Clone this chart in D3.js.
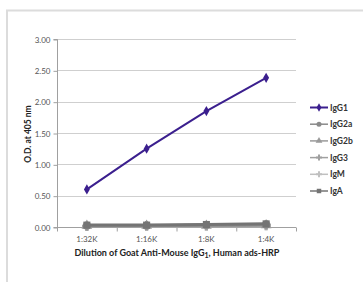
<!DOCTYPE html>
<html>
<head>
<meta charset="utf-8">
<script src="https://cdn.jsdelivr.net/npm/d3@7"></script>
<style>
  html, body { margin: 0; padding: 0; background: #fff; }
  svg { display: block; font-family: Lato, "Open Sans", sans-serif; }
</style>
</head>
<body>
<svg id="chart" width="363" height="282"></svg>
<script>
const dilutions = ["1:32K", "1:16K", "1:8K", "1:4K"];
const yTicks = [0, 0.5, 1, 1.5, 2, 2.5, 3];
const seriesNames = ["IgG1", "IgG2a", "IgG2b", "IgG3", "IgM", "IgA"];
const igG1 = [0.6, 1.25, 1.85, 2.38];
const igG2a = [0.02, 0.02, 0.03, 0.04];
const igG2b = [0.02, 0.02, 0.02, 0.03];
const igG3 = [0.01, 0.02, 0.02, 0.03];
const igM = [0.01, 0.01, 0.02, 0.02];
const igA = [0.03, 0.03, 0.04, 0.05];
const seriesValues = [igG1, igG2a, igG2b, igG3, igM, igA];

const colors = ["#3b1f8e", "#8a8a8a", "#9a9a9a", "#a0a0a0", "#c0c0c0", "#747474"];
const shapes = [d3.symbolDiamond, d3.symbolCircle, d3.symbolTriangle, d3.symbolCross, d3.symbolCross, d3.symbolSquare];

const svg = d3.select("#chart");
const plot = { left: 57, right: 296, top: 39, bottom: 227 };

// outer frame (light grey, left + top only)
svg.append("path")
  .attr("d", "M7,282V10.5H363")
  .attr("fill", "none")
  .attr("stroke", "#dcdcdc")
  .attr("stroke-width", 2);

const x = d3.scaleBand().domain(dilutions).range([plot.left, plot.right]).padding(0);
const y = d3.scaleLinear().domain([0, 3]).range([plot.bottom, plot.top]);
const cx = (d) => x(d) + x.bandwidth() / 2;

// grid
svg.append("g")
  .selectAll("line")
  .data(yTicks.filter((d) => d > 0))
  .join("line")
  .attr("x1", plot.left)
  .attr("x2", plot.right)
  .attr("y1", (d) => Math.round(y(d)) + 0.5)
  .attr("y2", (d) => Math.round(y(d)) + 0.5)
  .attr("stroke", "#cfcfcf");

// y axis
const yAxis = svg.append("g")
  .attr("transform", `translate(${plot.left + 0.5},0.5)`)
  .call(d3.axisLeft(y).tickValues(yTicks).tickFormat(d3.format(".2f")).tickSize(4).tickPadding(3));
yAxis.select(".domain").attr("stroke", "#a0a0a0").attr("d", `M-4,${plot.top}H0V${plot.bottom}H-4`);
yAxis.selectAll(".tick line").attr("stroke", "#a0a0a0");
yAxis.selectAll(".tick text").attr("fill", "#555").style("font-size", "8px").style("font-family", "Lato, sans-serif");

// x axis
const xAxis = svg.append("g")
  .attr("transform", `translate(0,${Math.round(plot.bottom) + 0.5})`)
  .call(d3.axisBottom(x).tickSize(0).tickPadding(9));
xAxis.select(".domain").attr("stroke", "#a0a0a0").attr("d", `M${plot.left},0H${plot.right}`);
xAxis.selectAll(".tick text").attr("fill", "#555").style("font-size", "8px").style("font-family", "Lato, sans-serif");
xAxis.selectAll(".bound")
  .data(d3.range(dilutions.length + 1))
  .join("line")
  .attr("class", "bound")
  .attr("x1", (i) => plot.left + i * x.bandwidth() + 0.5)
  .attr("x2", (i) => plot.left + i * x.bandwidth() + 0.5)
  .attr("y1", 0)
  .attr("y2", 4)
  .attr("stroke", "#a0a0a0");

// axis titles
svg.append("text")
  .attr("transform", `translate(31,${(plot.top + plot.bottom) / 2 + 1}) rotate(-90)`)
  .attr("text-anchor", "middle")
  .attr("fill", "#222")
  .style("font-size", "8.5px")
  .style("font-weight", "bold")
  .text("O.D. at 405 nm");

const xTitle = svg.append("text")
  .attr("x", 177)
  .attr("y", 256)
  .attr("text-anchor", "middle")
  .attr("fill", "#222")
  .style("font-size", "9px")
  .style("font-weight", "bold");
xTitle.append("tspan").text("Dilution of Goat Anti-Mouse IgG");
xTitle.append("tspan").attr("dy", 1.5).style("font-size", "7px").text("1");
xTitle.append("tspan").attr("dy", -1.5).text(", Human ads-HRP");

// lines (grey series first, IgG1 on top)
const line = d3.line().x((d, i) => cx(dilutions[i])).y((d) => y(d));
const order = [4, 3, 2, 1, 5, 0];
const seriesG = svg.append("g");
order.forEach((k) => {
  const g = seriesG.append("g");
  g.append("path")
    .datum(seriesValues[k])
    .attr("d", line)
    .attr("fill", "none")
    .attr("stroke", colors[k])
    .attr("stroke-width", k === 0 ? 2 : 3);
  g.selectAll("path.m")
    .data(seriesValues[k])
    .join("path")
    .attr("class", "m")
    .attr("transform", (d, i) => `translate(${cx(dilutions[i])},${y(d)})`)
    .attr("d", d3.symbol().type(shapes[k]).size(k === 0 ? 30 : 50))
    .attr("fill", colors[k]);
});

// legend
const legend = svg.append("g").attr("transform", "translate(310,107.5)");
const items = legend.selectAll("g")
  .data(seriesNames)
  .join("g")
  .attr("transform", (d, i) => `translate(0,${i * 16.7})`);
items.append("line")
  .attr("x1", 0).attr("x2", 18)
  .attr("stroke", (d, i) => colors[i])
  .attr("stroke-width", (d, i) => (i === 0 ? 2 : 1.5));
items.append("path")
  .attr("transform", "translate(9,0)")
  .attr("d", (d, i) => d3.symbol().type(shapes[i]).size(20)())
  .attr("fill", (d, i) => colors[i]);
items.append("text")
  .attr("x", 20)
  .attr("y", 3)
  .attr("fill", "#333")
  .style("font-size", "8.5px")
  .style("font-weight", "bold")
  .text((d) => d);
</script>
</body>
</html>
